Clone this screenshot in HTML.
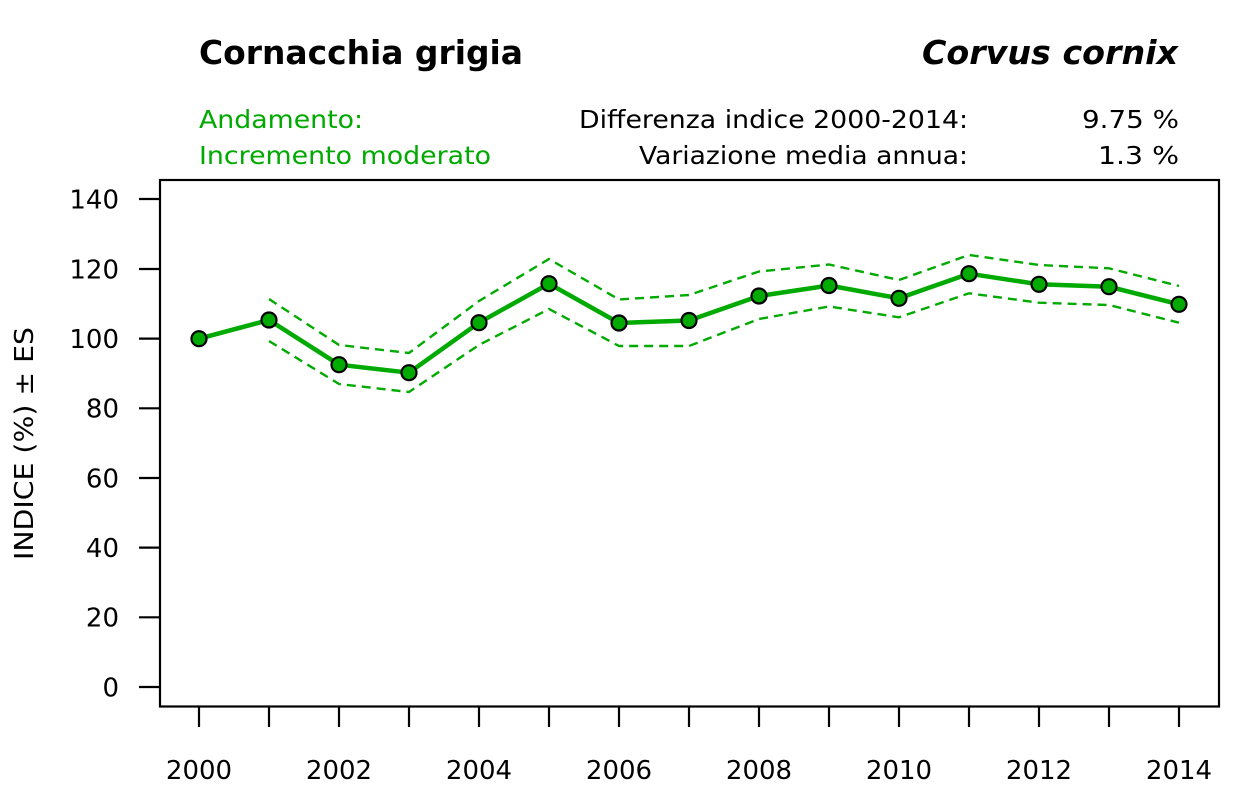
<!DOCTYPE html>
<html>
<head>
<meta charset="utf-8">
<style>
html,body{margin:0;padding:0;background:#fff;}
svg{display:block;}
text{font-family:"DejaVu Sans","Liberation Sans",sans-serif;}
</style>
</head>
<body>
<svg width="1259" height="787" viewBox="0 0 1259 787" xmlns="http://www.w3.org/2000/svg">
<rect x="0" y="0" width="1259" height="787" fill="#fff"/>

<!-- Titles -->
<text x="199" y="64" font-size="33" font-weight="bold" fill="#000" textLength="324" lengthAdjust="spacingAndGlyphs">Cornacchia grigia</text>
<text x="922" y="64" font-size="33" font-weight="bold" font-style="italic" fill="#000" textLength="256" lengthAdjust="spacingAndGlyphs">Corvus cornix</text>

<text x="199" y="128" font-size="24.5" fill="#00aa00" textLength="164" lengthAdjust="spacingAndGlyphs">Andamento:</text>
<text x="199" y="164" font-size="24.5" fill="#00aa00" textLength="292" lengthAdjust="spacingAndGlyphs">Incremento moderato</text>

<text x="579" y="128" font-size="24.5" fill="#000" textLength="389" lengthAdjust="spacingAndGlyphs">Differenza indice 2000-2014:</text>
<text x="639" y="164" font-size="24.5" fill="#000" textLength="329" lengthAdjust="spacingAndGlyphs">Variazione media annua:</text>
<text x="1082" y="128" font-size="24.5" fill="#000" textLength="97" lengthAdjust="spacingAndGlyphs">9.75 %</text>
<text x="1098" y="164" font-size="24.5" fill="#000" textLength="81" lengthAdjust="spacingAndGlyphs">1.3 %</text>

<!-- Plot box -->
<rect x="160" y="180" width="1059" height="526.5" fill="none" stroke="#000" stroke-width="2.2"/>

<!-- Y ticks -->
<g stroke="#000" stroke-width="2.2">
<line x1="139" y1="199" x2="160" y2="199"/>
<line x1="139" y1="269" x2="160" y2="269"/>
<line x1="139" y1="338.6" x2="160" y2="338.6"/>
<line x1="139" y1="408.3" x2="160" y2="408.3"/>
<line x1="139" y1="478" x2="160" y2="478"/>
<line x1="139" y1="547.6" x2="160" y2="547.6"/>
<line x1="139" y1="617.3" x2="160" y2="617.3"/>
<line x1="139" y1="687" x2="160" y2="687"/>
</g>
<g font-size="26" fill="#000" text-anchor="end">
<text x="119" y="208.5">140</text>
<text x="119" y="278.5">120</text>
<text x="119" y="348">100</text>
<text x="119" y="417.7">80</text>
<text x="119" y="487.4">60</text>
<text x="119" y="557">40</text>
<text x="119" y="626.7">20</text>
<text x="119" y="696.4">0</text>
</g>

<!-- Y label -->
<text transform="translate(33,443.5) rotate(-90)" font-size="26" fill="#000" text-anchor="middle" textLength="233" lengthAdjust="spacingAndGlyphs">INDICE (%) ± ES</text>

<!-- X ticks -->
<g stroke="#000" stroke-width="2.2">
<line x1="199" y1="707" x2="199" y2="727"/>
<line x1="269" y1="707" x2="269" y2="727"/>
<line x1="339" y1="707" x2="339" y2="727"/>
<line x1="409" y1="707" x2="409" y2="727"/>
<line x1="479" y1="707" x2="479" y2="727"/>
<line x1="549" y1="707" x2="549" y2="727"/>
<line x1="619" y1="707" x2="619" y2="727"/>
<line x1="689" y1="707" x2="689" y2="727"/>
<line x1="759" y1="707" x2="759" y2="727"/>
<line x1="829" y1="707" x2="829" y2="727"/>
<line x1="899" y1="707" x2="899" y2="727"/>
<line x1="969" y1="707" x2="969" y2="727"/>
<line x1="1039" y1="707" x2="1039" y2="727"/>
<line x1="1109" y1="707" x2="1109" y2="727"/>
<line x1="1179" y1="707" x2="1179" y2="727"/>
</g>
<g font-size="26" fill="#000" text-anchor="middle">
<text x="199" y="779">2000</text>
<text x="339" y="779">2002</text>
<text x="479" y="779">2004</text>
<text x="619" y="779">2006</text>
<text x="759" y="779">2008</text>
<text x="899" y="779">2010</text>
<text x="1039" y="779">2012</text>
<text x="1179" y="779">2014</text>
</g>

<!-- Dashed error lines -->
<g fill="none" stroke="#00aa00" stroke-width="2.4" stroke-dasharray="9,6">
<polyline points="269,299 339,345 409,353 479,301 549,259 619,299.5 689,295 759,271.5 829,264.5 899,280 969,255 1039,265 1109,268.3 1179,286"/>
<polyline points="269,341 339,384 409,392 479,345 549,309 619,346 689,346 759,319 829,306.5 899,317.3 969,293.3 1039,302.7 1109,305 1179,322.7"/>
</g>

<!-- Main line -->
<polyline fill="none" stroke="#00aa00" stroke-width="4.5" stroke-linejoin="round" points="199,338.7 269,320 339,364.7 409,372.7 479,322.7 549,283.7 619,323 689,320.5 759,296 829,285.5 899,298.3 969,273.7 1039,284.3 1109,286.7 1179,304.3"/>

<!-- Points -->
<g fill="#00aa00" stroke="#000" stroke-width="2.2">
<circle cx="199" cy="338.7" r="7.5"/>
<circle cx="269" cy="320" r="7.5"/>
<circle cx="339" cy="364.7" r="7.5"/>
<circle cx="409" cy="372.7" r="7.5"/>
<circle cx="479" cy="322.7" r="7.5"/>
<circle cx="549" cy="283.7" r="7.5"/>
<circle cx="619" cy="323" r="7.5"/>
<circle cx="689" cy="320.5" r="7.5"/>
<circle cx="759" cy="296" r="7.5"/>
<circle cx="829" cy="285.5" r="7.5"/>
<circle cx="899" cy="298.3" r="7.5"/>
<circle cx="969" cy="273.7" r="7.5"/>
<circle cx="1039" cy="284.3" r="7.5"/>
<circle cx="1109" cy="286.7" r="7.5"/>
<circle cx="1179" cy="304.3" r="7.5"/>
</g>
</svg>
</body>
</html>
